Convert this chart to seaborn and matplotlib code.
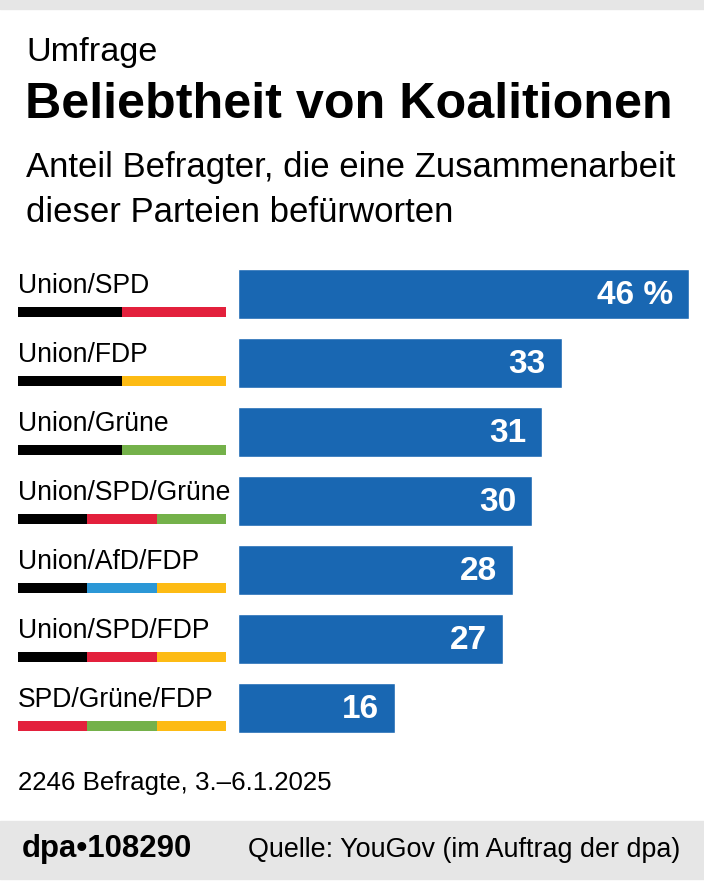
import matplotlib
matplotlib.use("Agg")
import matplotlib.pyplot as plt
from matplotlib.patches import Rectangle
import pandas as pd
import seaborn as sns

coalitions = ["Union/SPD", "Union/FDP", "Union/Grüne", "Union/SPD/Grüne",
              "Union/AfD/FDP", "Union/SPD/FDP", "SPD/Grüne/FDP"]
values = [46, 33, 31, 30, 28, 27, 16]
value_labels = ["46 %", "33", "31", "30", "28", "27", "16"]
parties = [["Union", "SPD"], ["Union", "FDP"], ["Union", "Grüne"],
           ["Union", "SPD", "Grüne"], ["Union", "AfD", "FDP"],
           ["Union", "SPD", "FDP"], ["SPD", "Grüne", "FDP"]]
party_colors = {"Union": "#000000", "SPD": "#e3203c", "FDP": "#fdbb14",
                "Grüne": "#74b14a", "AfD": "#2b97d6"}

BAR = "#1967b2"
GREY = "#e6e6e6"

sns.set_theme(style="white")
plt.rcParams["font.family"] = ["Liberation Sans", "DejaVu Sans"]
plt.rcParams["text.color"] = "black"

W, H = 704, 882
fig = plt.figure(figsize=(W / 100, H / 100), dpi=100)
fig.patch.set_facecolor("white")
renderer = fig.canvas.get_renderer()


def fx(px):
    return px / W


def fy(py):
    return 1 - py / H


def fit(t, width_px):
    # shrink/grow a text so it spans the same width as in the reference
    w = t.get_window_extent(renderer).width
    t.set_fontsize(t.get_fontsize() * width_px / w)
    return t


# grey strips top and bottom
fig.patches.append(Rectangle((0, fy(9)), 1, 9 / H, transform=fig.transFigure,
                             color=GREY, zorder=0))
fig.patches.append(Rectangle((0, fy(879)), 1, 58 / H, transform=fig.transFigure,
                             color=GREY, zorder=0))

# bars
top, bottom = 259.5, 742.5
ax = fig.add_axes([fx(238), fy(bottom), fx(689) - fx(238), (bottom - top) / H])
df = pd.DataFrame({"coalition": coalitions, "value": values})
sns.barplot(data=df, x="value", y="coalition", color=BAR, saturation=1,
            width=50 / 69, ax=ax)
ax.set_xlim(0, 46)
ax.set_ylim(6.5, -0.5)
ax.axis("off")
for i, (v, lab) in enumerate(zip(values, value_labels)):
    ax.text(v - 1.6, i + 0.02, lab, ha="right", va="center", color="white",
            fontsize=24, fontweight="bold")

# labels with party colour strips
lax = fig.add_axes([fx(18), fy(bottom), fx(226) - fx(18), (bottom - top) / H])
lax.set_xlim(0, 1)
lax.set_ylim(6.5, -0.5)
lax.axis("off")
label_texts = []
for i, (name, ps) in enumerate(zip(coalitions, parties)):
    label_texts.append(lax.text(0, i - 0.02, name, ha="left", va="baseline",
                                fontsize=20))
    n = len(ps)
    for k, p in enumerate(ps):
        lax.barh(i + 0.26, 1 / n, left=k / n, height=10 / 69,
                 color=party_colors[p], linewidth=0)
fit(label_texts[3], 212)
for t in label_texts:
    t.set_fontsize(label_texts[3].get_fontsize())

# header texts
fit(fig.text(fx(26), fy(61), "Umfrage", fontsize=23, va="baseline"), 132)
fit(fig.text(fx(25), fy(118), "Beliebtheit von Koalitionen", fontsize=30,
             fontweight="bold", va="baseline"), 648)
sub = fit(fig.text(fx(26), fy(177), "Anteil Befragter, die eine Zusammenarbeit",
                   fontsize=22, va="baseline"), 648)
fig.text(fx(26), fy(222), "dieser Parteien befürworten",
         fontsize=sub.get_fontsize(), va="baseline")

# footer
fit(fig.text(fx(18), fy(790), "2246 Befragte, 3.–6.1.2025", fontsize=16,
             va="baseline"), 314)
fit(fig.text(fx(22), fy(857), "dpa\u2022108290", fontsize=18,
             fontweight="bold", va="baseline"), 170)
fit(fig.text(fx(680), fy(857), "Quelle: YouGov (im Auftrag der dpa)",
             fontsize=17, va="baseline", ha="right"), 434)

fig.savefig("out.png", dpi=100)
